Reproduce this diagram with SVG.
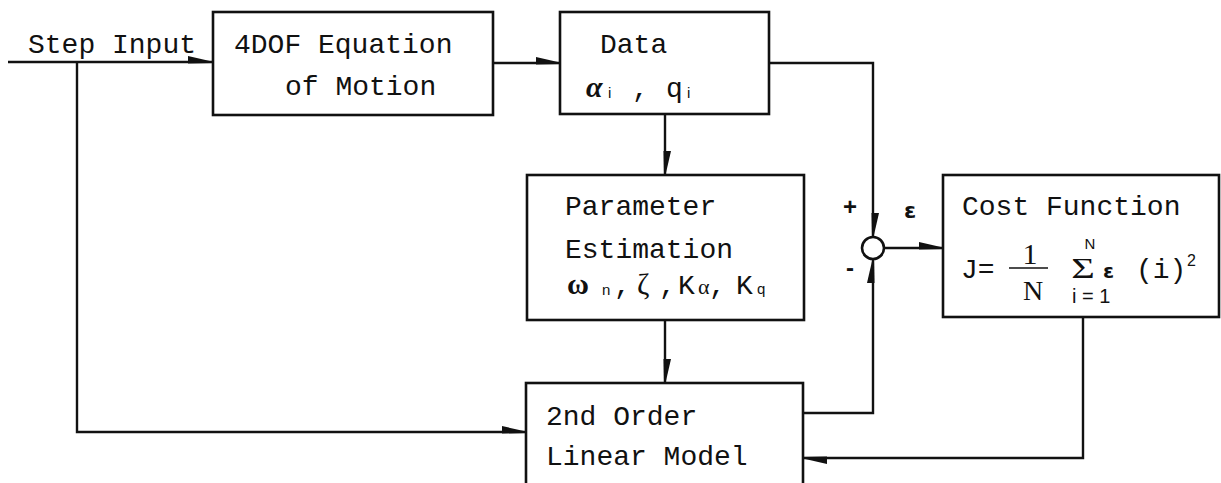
<svg xmlns="http://www.w3.org/2000/svg" width="1221" height="483" viewBox="0 0 1221 483">
  <defs>
    <!-- one-sided filled barb, tip at the line end -->
    <marker id="barb" markerUnits="userSpaceOnUse" markerWidth="26" markerHeight="10" refX="24" refY="6" orient="auto" overflow="visible">
      <path d="M0,0 L24,5.5 L24,7 L0,7.5 Z" fill="#111"/>
    </marker>
    <style>
      .box { fill: #fff; stroke: #111; stroke-width: 2.6; }
      .wire { fill: none; stroke: #111; stroke-width: 2.4; stroke-linejoin: miter; }
      .t { font-family: "Liberation Mono", "DejaVu Sans Mono", monospace; font-size: 28px; fill: #111; }
      .sub { font-family: "Liberation Sans", "DejaVu Sans", sans-serif; font-size: 15px; fill: #111; }
      .serif { font-family: "Liberation Serif", "DejaVu Serif", serif; fill: #111; }
      .sans { font-family: "Liberation Sans", "DejaVu Sans", sans-serif; fill: #111; }
      .eps { font-family: "DejaVu Sans", "Liberation Sans", sans-serif; font-weight: bold; fill: #111; }
    </style>
  </defs>
  <rect width="1221" height="483" fill="#fff"/>

  <!-- connectors -->
  <g id="connectors">
    <line class="wire" x1="8" y1="62" x2="212" y2="62" marker-end="url(#barb)"/>
    <polyline class="wire" points="77,62 77,432 526,432" marker-end="url(#barb)"/>
    <line class="wire" x1="493" y1="63" x2="560" y2="63" marker-end="url(#barb)"/>
    <polyline class="wire" points="769,63 873,63 873,237" marker-end="url(#barb)"/>
    <line class="wire" x1="665" y1="114" x2="665" y2="175" marker-end="url(#barb)"/>
    <line class="wire" x1="665" y1="320" x2="665" y2="383" marker-end="url(#barb)"/>
    <polyline class="wire" points="803,413 873,413 873,259" marker-end="url(#barb)"/>
    <line class="wire" x1="884" y1="248" x2="943" y2="248" marker-end="url(#barb)"/>
    <polyline class="wire" points="1083,317 1083,458 803,458" marker-end="url(#barb)"/>
  </g>

  <!-- input label -->
  <g id="input">
    <text class="t" x="28" y="53">Step Input</text>
  </g>

  <!-- equation of motion block -->
  <g id="eom">
    <rect class="box" x="213" y="12" width="280" height="103"/>
    <text class="t" x="234" y="53">4DOF Equation</text>
    <text class="t" x="285" y="95">of Motion</text>
  </g>

  <!-- measured data block -->
  <g id="data">
    <rect class="box" x="560" y="12" width="209" height="102"/>
    <text class="t" x="600" y="53">Data</text>
    <text class="serif" x="586" y="97" style="font-size:30px;font-style:italic;font-weight:bold">α</text>
    <text class="sub" x="608" y="98">i</text>
    <text class="t" x="632" y="97">,</text>
    <text class="t" x="666" y="97">q</text>
    <text class="sub" x="687" y="98">i</text>
  </g>

  <!-- parameter estimation block -->
  <g id="estimation">
    <rect class="box" x="527" y="175" width="277" height="145"/>
    <text class="t" x="565" y="215">Parameter</text>
    <text class="t" x="565" y="258">Estimation</text>
    <text class="serif" x="567" y="294" style="font-size:30px;font-weight:bold">ω</text>
    <text class="sub" x="602" y="295">n</text>
    <text class="t" x="614" y="294">,</text>
    <text class="serif" x="637" y="294" style="font-size:30px">ζ</text>
    <text class="t" x="659" y="294">,</text>
    <text class="t" x="678" y="294">K</text>
    <text class="serif" x="698" y="294" style="font-size:22px">α</text>
    <text class="t" x="709" y="294">,</text>
    <text class="t" x="736" y="294">K</text>
    <text class="sub" x="757" y="294">q</text>
  </g>

  <!-- summing junction -->
  <g id="sum">
    <circle cx="873" cy="248" r="11" fill="#fff" stroke="#111" stroke-width="2.6"/>
    <text class="sans" x="850" y="215" text-anchor="middle" style="font-size:24px;font-weight:bold">+</text>
    <text class="sans" x="850" y="276" text-anchor="middle" style="font-size:24px;font-weight:bold">-</text>
    <text class="eps" x="904" y="218" style="font-size:22px">ε</text>
  </g>

  <!-- cost function block -->
  <g id="cost">
    <rect class="box" x="943" y="175" width="276" height="142"/>
    <text class="t" x="962" y="215">Cost Function</text>
    <text class="t" x="961" y="278">J=</text>
    <text class="serif" x="1030" y="264" text-anchor="middle" style="font-size:30px">1</text>
    <line x1="1009" y1="268" x2="1048" y2="268" stroke="#111" stroke-width="1.6"/>
    <text class="serif" x="1033" y="300" text-anchor="middle" style="font-size:28px">N</text>
    <text class="sans" x="1090" y="249" text-anchor="middle" style="font-size:15px">N</text>
    <text class="serif" transform="translate(1083,278) scale(1.35,1)" text-anchor="middle" style="font-size:30px">Σ</text>
    <text class="sans" x="1072" y="303" style="font-size:20px">i = 1</text>
    <text class="eps" x="1103" y="278" style="font-size:20px">ε</text>
    <text class="t" x="1136" y="278">(i)</text>
    <text class="sans" x="1187" y="266" style="font-size:16px">2</text>
  </g>

  <!-- second order model block -->
  <g id="model">
    <rect class="box" x="526" y="383" width="277" height="120"/>
    <text class="t" x="546" y="425">2nd Order</text>
    <text class="t" x="546" y="465">Linear Model</text>
  </g>
</svg>
